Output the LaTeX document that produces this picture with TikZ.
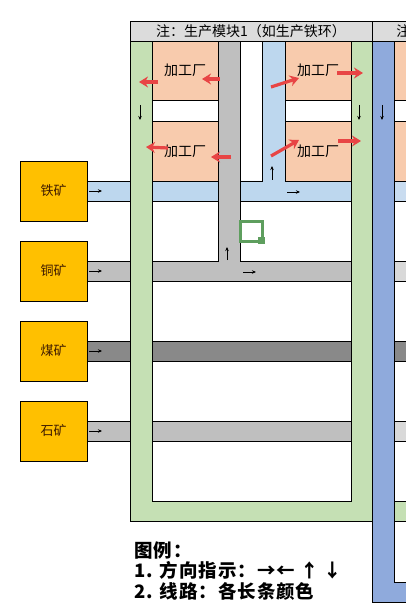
\documentclass[tikz,border=0pt]{standalone}
\usepackage{fontspec}
\newfontfamily\cjk{Noto Sans CJK SC}
\newfontfamily\cjktuli[LetterSpace=5]{Noto Sans CJK SC}
\usetikzlibrary{arrows.meta}
\definecolor{kuangse}{HTML}{FFC000}
\definecolor{lanse}{HTML}{BDD7EE}
\definecolor{qianlan}{HTML}{C9DCF0}
\definecolor{huise}{HTML}{BFBFBF}
\definecolor{qianhui}{HTML}{D9D9D9}
\definecolor{shenhui}{HTML}{898989}
\definecolor{lvse}{HTML}{C5E0B4}
\definecolor{shenlan}{HTML}{8FAADC}
\definecolor{chengse}{HTML}{F8CBAD}
\definecolor{biaoti}{HTML}{DCDCDC}
\definecolor{hongse}{HTML}{E84545}
\definecolor{kuanglv}{HTML}{5E9E5E}
\definecolor{kuangzi}{HTML}{3D1A00}

\begin{document}
\begin{tikzpicture}[x=1pt,y=-1pt,line width=0.8pt,font=\cjk]
\tikzstyle{jiantou}=[-{Stealth[length=4pt,width=3.5pt]},line width=0.8pt]
\tikzstyle{hong}=[-{Stealth[length=9pt,width=11pt]},line width=3.2pt,hongse]
\tikzset{kuang/.style={draw,fill=kuangse,minimum width=67pt,minimum height=60pt,inner sep=0pt,text=#1,font=\cjk\fontsize{13}{15}\selectfont},
kuang/.default={kuangzi}}
\tikzset{gongchang/.style={draw,fill=chengse,minimum width=66pt,minimum height=#1,inner sep=0pt,font=\cjk\fontsize{14}{16}\selectfont},
gongchang/.default={60pt}}
\path[use as bounding box,clip] (0,0) rectangle (406,609);

% kuang
\node[kuang] (tie) at (53.5,191) {铁矿};
\node[kuang] (tong) at (53.5,271) {铜矿};
\node[kuang] (mei) at (53.5,351) {煤矿};
\node[kuang] (shi) at (53.5,431) {石矿};

% xianlu
\draw[fill=lanse] (87,181) rectangle (372,201);
\draw[fill=huise] (87,261) rectangle (372,281);
\draw[fill=shenhui] (87,341) rectangle (372,361);
\draw[fill=huise] (87,421) rectangle (372,441);

% mokuai 2 (bufen)
\draw[fill=chengse] (394,41) rectangle (412,100);
\draw[fill=chengse] (394,121) rectangle (412,181);
\draw[fill=qianlan] (394,181) rectangle (412,201);
\draw[fill=qianhui] (394,261) rectangle (412,281);
\draw[fill=shenhui] (394,341) rectangle (412,361);
\draw[fill=qianhui] (394,421) rectangle (412,441);
\draw[fill=lvse] (394,501) rectangle (412,521);
\draw[fill=shenlan] (372,41) -- (372,602) -- (412,602) -- (412,582) -- (394,582) -- (394,41) -- cycle;

% mokuai 1
\draw[fill=lvse] (130,41) -- (130,521) -- (372,521) -- (372,41) -- (351,41) -- (351,501) -- (152,501) -- (152,41) -- cycle;
\draw[fill=lanse] (152,181) -- (262,181) -- (262,41) -- (285,41) -- (285,181) -- (351,181) -- (351,201) -- (152,201) -- cycle;
\draw[fill=huise] (218,41) -- (240,41) -- (240,261) -- (351,261) -- (351,281) -- (152,281) -- (152,261) -- (218,261) -- cycle;
\node[gongchang=59pt] (jg1) at (185,70.5) {加工厂};
\node[gongchang] (jg2) at (185,151) {加工厂};
\node[gongchang=59pt] (jg3) at (318,70.5) {加工厂};
\node[gongchang] (jg4) at (318,151) {加工厂};

% biaoti
\node[draw,fill=biaoti,minimum width=242pt,minimum height=20pt,inner sep=0pt,font=\cjk\fontsize{14}{16}\selectfont] (bt1) at (251,31) {注：生产模块1（如生产铁环）};
\node[draw,fill=biaoti,minimum width=40pt,minimum height=20pt,inner sep=0pt,anchor=west] (bt2) at (372,31) {};
\node[anchor=west,inner sep=0pt,font=\cjk\fontsize{14}{16}\selectfont] (bt2zi) at (396,31) {注};

% fangxiang
\draw[jiantou] (89,191) -- (102,191);
\draw[jiantou] (89,271) -- (102,271);
\draw[jiantou] (89,351) -- (102,351);
\draw[jiantou] (89,431) -- (102,431);
\draw[jiantou] (140,105) -- (140,120);
\draw[jiantou] (359,105) -- (359,120);
\draw[jiantou] (382,105) -- (382,120);
\draw[jiantou] (272,180) -- (272,166);
\draw[jiantou] (287,192) -- (300,192);
\draw[jiantou] (227,260) -- (227,247);
\draw[jiantou] (243,272) -- (256,272);

\draw[hong] (158,82) -- (139,82);
\draw[hong] (220,79) -- (202,79);
\draw[hong] (168,148) -- (146,147);
\draw[hong] (231,157) -- (211,157);
\draw[hong] (271,87) -- (299,78);
\draw[hong] (337,73) -- (363,73);
\draw[hong] (271,156) -- (299,140);
\draw[hong] (338,141) -- (361,141);

% kuang xuanze
\draw[kuanglv,line width=3pt] (240.5,221.5) rectangle (262,241.5);
\fill[kuanglv] (258,237) rectangle (265,244);

% tuli
\node[anchor=north west,align=left,inner sep=0pt,font=\cjktuli\bfseries\fontsize{18.5}{20.5}\selectfont] (tuli) at (134,541) {图例：\\1. 方向指示：→← ↑ ↓\\2. 线路：各长条颜色};
\end{tikzpicture}
\end{document}
